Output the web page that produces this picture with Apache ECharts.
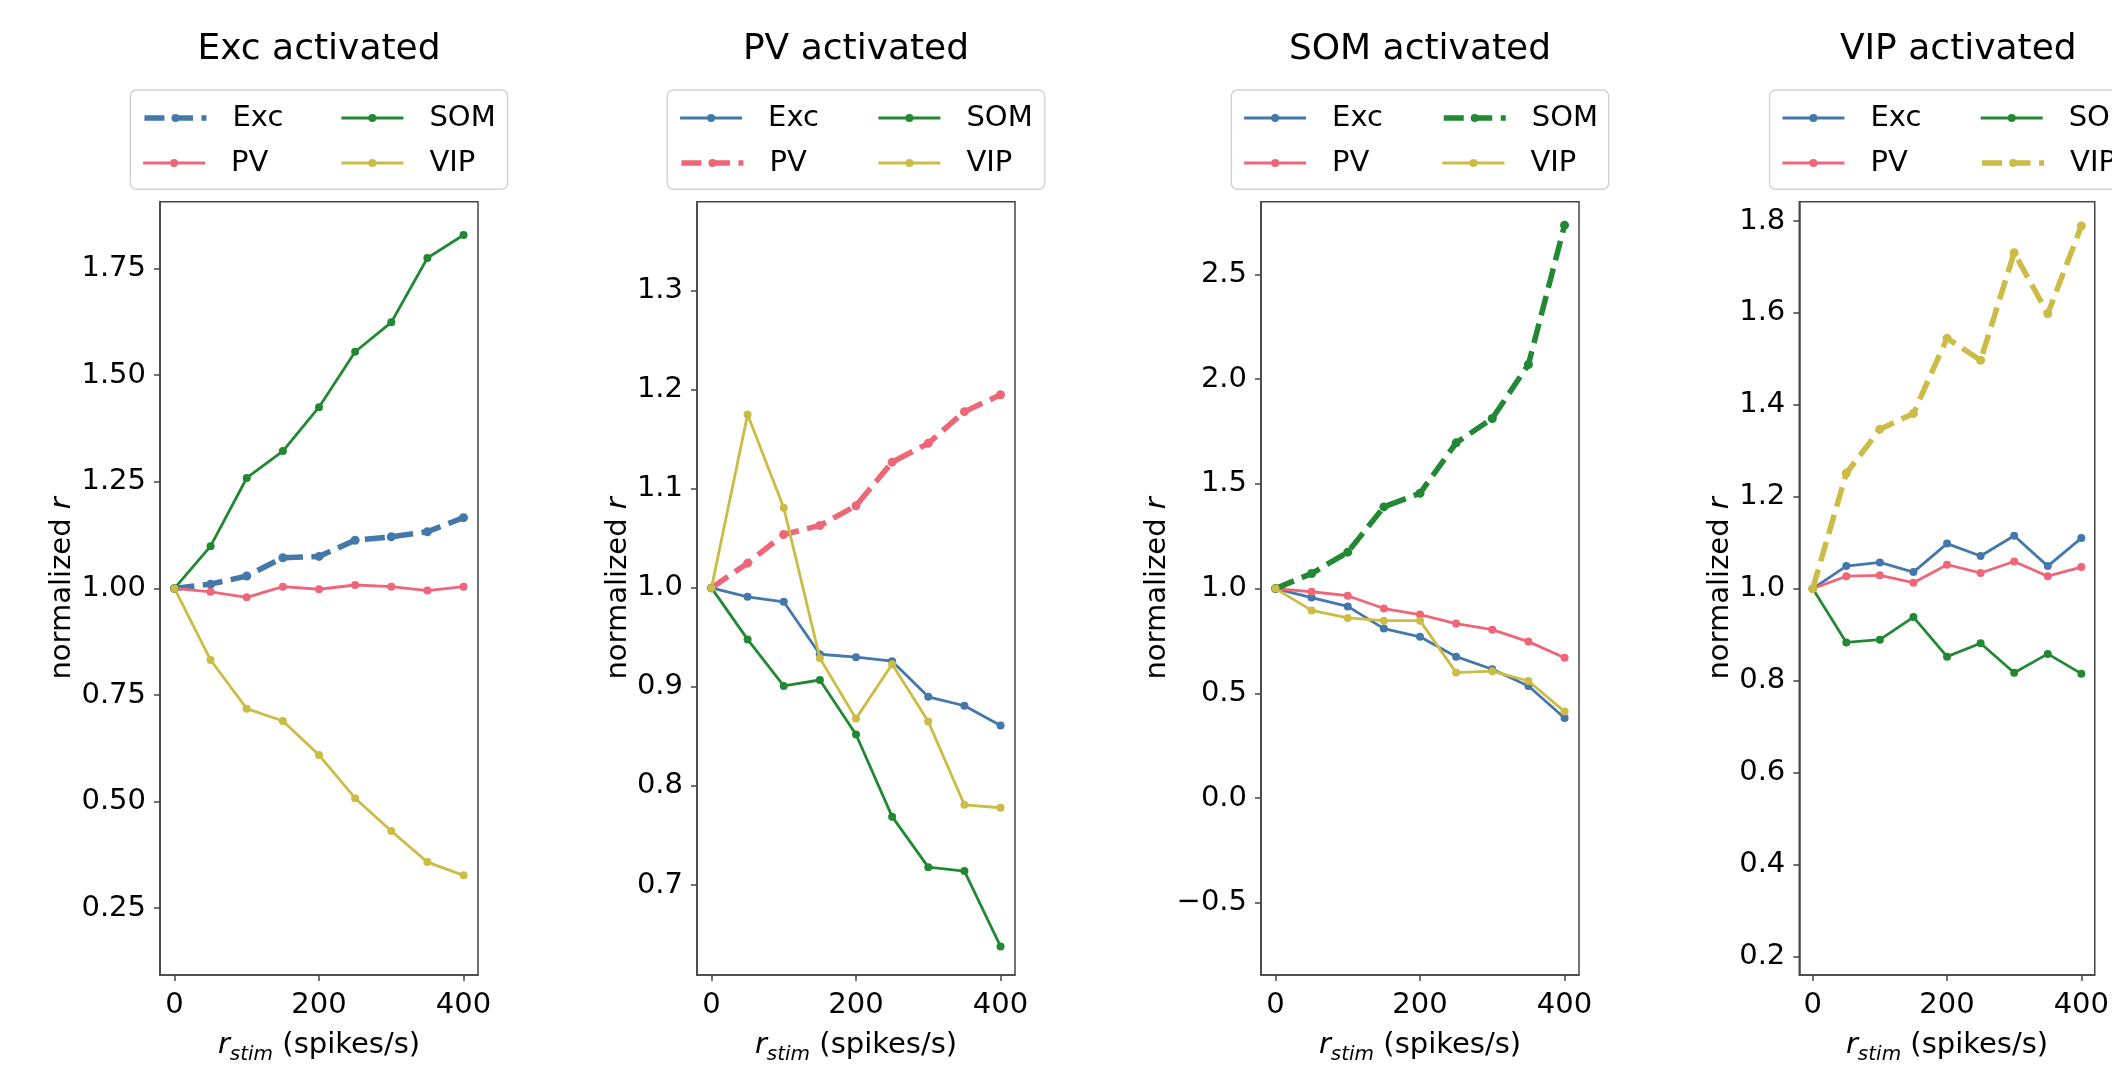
<!DOCTYPE html>
<html><head><meta charset="utf-8">
<script src="https://cdn.jsdelivr.net/npm/echarts@6/dist/echarts.min.js"></script>
<style>html,body{margin:0;padding:0;background:#fff;overflow:hidden}#c{width:2112px;height:1070px}</style>
</head><body><div id="c"></div>
<script>
// ---------------- data ----------------
const xValues = [0, 50, 100, 150, 200, 250, 300, 350, 400];
const cellTypes = ['Exc', 'PV', 'SOM', 'VIP'];
const panelTitles = ['Exc activated', 'PV activated', 'SOM activated', 'VIP activated'];

// Panel 1: Exc activated
const excAct_Exc = [1.000, 1.010, 1.029, 1.072, 1.075, 1.113, 1.121, 1.133, 1.166];
const excAct_PV  = [1.000, 0.992, 0.979, 1.004, 0.998, 1.008, 1.004, 0.995, 1.004];
const excAct_SOM = [1.000, 1.099, 1.259, 1.322, 1.425, 1.555, 1.624, 1.775, 1.829];
const excAct_VIP = [1.000, 0.832, 0.718, 0.689, 0.609, 0.508, 0.431, 0.358, 0.327];
// Panel 2: PV activated
const pvAct_Exc = [1.000, 0.991, 0.986, 0.933, 0.930, 0.926, 0.890, 0.881, 0.861];
const pvAct_PV  = [1.000, 1.025, 1.054, 1.063, 1.083, 1.127, 1.146, 1.178, 1.195];
const pvAct_SOM = [1.000, 0.948, 0.901, 0.907, 0.852, 0.769, 0.718, 0.714, 0.638];
const pvAct_VIP = [1.000, 1.175, 1.081, 0.929, 0.868, 0.923, 0.865, 0.781, 0.778];
// Panel 3: SOM activated
const somAct_Exc = [1.000, 0.957, 0.915, 0.809, 0.770, 0.675, 0.615, 0.535, 0.382];
const somAct_PV  = [1.000, 0.985, 0.966, 0.905, 0.876, 0.833, 0.804, 0.747, 0.670];
const somAct_SOM = [1.000, 1.072, 1.174, 1.390, 1.455, 1.696, 1.812, 2.070, 2.735];
const somAct_VIP = [1.000, 0.896, 0.860, 0.847, 0.847, 0.599, 0.606, 0.559, 0.413];
// Panel 4: VIP activated
const vipAct_Exc = [1.000, 1.049, 1.057, 1.036, 1.098, 1.071, 1.115, 1.049, 1.110];
const vipAct_PV  = [1.000, 1.027, 1.029, 1.013, 1.052, 1.034, 1.059, 1.027, 1.047];
const vipAct_SOM = [1.000, 0.883, 0.889, 0.938, 0.852, 0.881, 0.817, 0.858, 0.815];
const vipAct_VIP = [1.000, 1.251, 1.347, 1.381, 1.545, 1.497, 1.731, 1.598, 1.789];

// ticks and ranges
const xTicks = [0, 200, 400];
const xRange = [-20, 420];
const yTicks1 = [0.25, 0.50, 0.75, 1.00, 1.25, 1.50, 1.75];
const yTicks2 = [0.7, 0.8, 0.9, 1.0, 1.1, 1.2, 1.3];
const yTicks3 = [-0.5, 0.0, 0.5, 1.0, 1.5, 2.0, 2.5];
const yTicks4 = [0.2, 0.4, 0.6, 0.8, 1.0, 1.2, 1.4, 1.6, 1.8];
const yRange1 = [0.093, 1.907];
const yRange2 = [0.609, 1.390];
const yRange3 = [-0.845, 2.847];
const yRange4 = [0.159, 1.842];
const yDecimals = [2, 1, 1, 1];

// ---------------- assembly ----------------
const panelData = [
  {Exc: excAct_Exc, PV: excAct_PV, SOM: excAct_SOM, VIP: excAct_VIP},
  {Exc: pvAct_Exc,  PV: pvAct_PV,  SOM: pvAct_SOM,  VIP: pvAct_VIP},
  {Exc: somAct_Exc, PV: somAct_PV, SOM: somAct_SOM, VIP: somAct_VIP},
  {Exc: vipAct_Exc, PV: vipAct_PV, SOM: vipAct_SOM, VIP: vipAct_VIP}
];
const panelYTicks = [yTicks1, yTicks2, yTicks3, yTicks4];
const panelYRange = [yRange1, yRange2, yRange3, yRange4];
const activated = ['Exc', 'PV', 'SOM', 'VIP'];

const colors = {Exc: '#4477AA', PV: '#EE6677', SOM: '#228833', VIP: '#CCBB44'};
const FONT = 'DejaVu Sans';
const AX = '#444';
const boxLeft = [160, 697, 1261, 1799.3];
const boxTop = 201.7, boxW = 318, boxH = 789.3;
const nameGaps = [83, 64, 89, 64];
const DASH = [20, 8.5];

const grids = [], xAxes = [], yAxes = [], series = [], legends = [], graphics = [];

for (let p = 0; p < 4; p++) {
  const cx = boxLeft[p] + boxW / 2;
  grids.push({left: boxLeft[p], top: boxTop, width: boxW, height: boxH,
    show: true, borderColor: AX, borderWidth: 1.5, backgroundColor: 'transparent', containLabel: false});
  xAxes.push({type: 'value', gridIndex: p, min: xRange[0], max: xRange[1],
    splitLine: {show: false},
    axisLine: {show: true, onZero: false, lineStyle: {color: AX, width: 1.5}},
    axisTick: {show: true, customValues: xTicks, length: 6, lineStyle: {color: AX, width: 1.5}},
    axisLabel: {show: true, customValues: xTicks, margin: 16, fontSize: 29, fontFamily: FONT, color: '#000',
      formatter: v => String(Math.round(v))},
    name: '{r|r}{s|stim}{n| (spikes/s)}', nameLocation: 'middle', nameGap: 41,
    nameTextStyle: {fontFamily: FONT, color: '#000', fontSize: 29,
      rich: {
        r: {fontSize: 29, fontStyle: 'italic', fontFamily: FONT, color: '#000', lineHeight: 40},
        s: {fontSize: 20, fontStyle: 'italic', fontFamily: FONT, color: '#000', padding: [20, 0, 0, 0], lineHeight: 20},
        n: {fontSize: 29, fontFamily: FONT, color: '#000', lineHeight: 40}
      }}
  });
  const dec = yDecimals[p];
  yAxes.push({type: 'value', gridIndex: p, min: panelYRange[p][0], max: panelYRange[p][1],
    splitLine: {show: false},
    axisLine: {show: true, onZero: false, lineStyle: {color: AX, width: 1.5}},
    axisTick: {show: true, customValues: panelYTicks[p], length: 6, lineStyle: {color: AX, width: 1.5}},
    axisLabel: {show: true, customValues: panelYTicks[p], margin: 14, fontSize: 29, fontFamily: FONT, color: '#000',
      formatter: v => v.toFixed(dec).replace('-', '\u2212')},
    name: '{a|normalized }{b|r}', nameLocation: 'middle', nameGap: nameGaps[p], nameRotate: 90,
    nameTextStyle: {fontFamily: FONT, color: '#000', fontSize: 29,
      rich: {
        a: {fontSize: 29, fontFamily: FONT, color: '#000'},
        b: {fontSize: 29, fontStyle: 'italic', fontFamily: FONT, color: '#000'}
      }}
  });
  cellTypes.forEach((c, ci) => {
    const dashed = activated[p] === c;
    const vals = panelData[p][c];
    series.push({
      type: 'line', name: c + '#' + p, xAxisIndex: p, yAxisIndex: p,
      data: xValues.map((x, i) => [x, vals[i]]),
      symbol: 'circle', symbolSize: dashed ? 9 : 8, showSymbol: true,
      lineStyle: {color: colors[c], width: dashed ? 5.5 : 2.8, type: dashed ? DASH : 'solid', cap: 'butt'},
      itemStyle: {color: colors[c]},
      emphasis: {disabled: true}, z: 2 + ci, animation: false
    });
    const col = ci < 2 ? 0 : 1;
    const row = ci % 2;
    legends.push({
      left: col === 0 ? cx - 177.3 : cx + 21,
      top: row === 0 ? 103.5 : 148.5,
      padding: 0, itemWidth: 62, itemHeight: 10,
      data: [{name: c + '#' + p}],
      formatter: n => n.split('#')[0],
      textStyle: {fontSize: 29, fontFamily: FONT, color: '#000', padding: [0, 0, 0, 21]},
      lineStyle: {width: 'inherit', type: 'inherit'},
      selectedMode: false, z: 10
    });
  });
  graphics.push({type: 'rect', z: 5, shape: {x: cx - 188.7, y: 90, width: 377.4, height: 99.3, r: 6},
    style: {fill: '#fff', stroke: '#d4d4d4', lineWidth: 1.5}});
  graphics.push({type: 'text', z: 5, x: cx, y: 50,
    style: {text: panelTitles[p], fontSize: 36, fontFamily: FONT, fill: '#000', textAlign: 'center', textVerticalAlign: 'middle'}});
}

const chart = echarts.init(document.getElementById('c'), null, {renderer: 'canvas', width: 2112, height: 1070});
chart.setOption({
  animation: false,
  backgroundColor: '#fff',
  grid: grids, xAxis: xAxes, yAxis: yAxes, series: series, legend: legends,
  graphic: graphics
});
</script></body></html>
